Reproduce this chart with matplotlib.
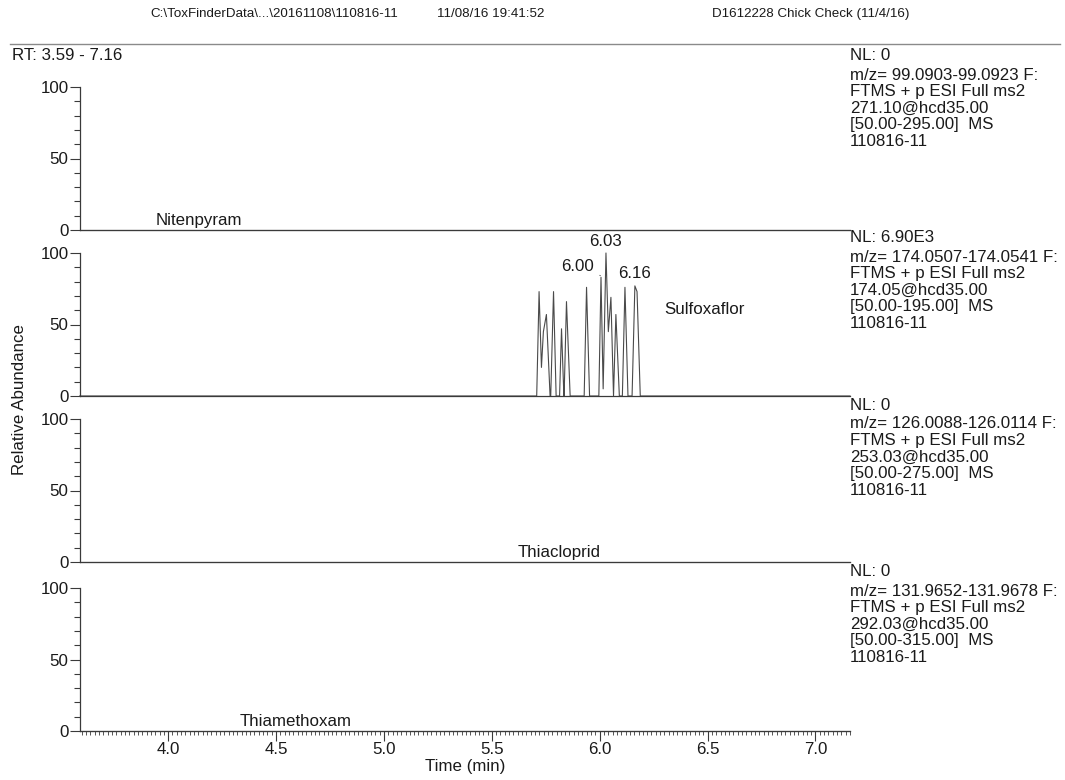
import matplotlib
matplotlib.use("Agg")
import matplotlib.pyplot as plt
from matplotlib.ticker import MultipleLocator, FixedLocator

plt.rcParams['font.family'] = ['Liberation Sans', 'DejaVu Sans']

W, H = 1065, 780
DPI = 100

# ---------------- data ----------------
rt_range = (3.59, 7.16)
x_ticks = [4.0, 4.5, 5.0, 5.5, 6.0, 6.5, 7.0]
y_ticks = [0, 50, 100]

compounds = ["Nitenpyram", "Sulfoxaflor", "Thiacloprid", "Thiamethoxam"]
label_rt = [3.94, 6.30, 5.62, 4.33]
label_int = [1.5, 55, 1.5, 1.5]

nl_values = ["NL: 0", "NL: 6.90E3", "NL: 0", "NL: 0"]
scan_info = [
    ["m/z= 99.0903-99.0923 F:", "FTMS + p ESI Full ms2", "271.10@hcd35.00",
     "[50.00-295.00]  MS", "110816-11"],
    ["m/z= 174.0507-174.0541 F:", "FTMS + p ESI Full ms2", "174.05@hcd35.00",
     "[50.00-195.00]  MS", "110816-11"],
    ["m/z= 126.0088-126.0114 F:", "FTMS + p ESI Full ms2", "253.03@hcd35.00",
     "[50.00-275.00]  MS", "110816-11"],
    ["m/z= 131.9652-131.9678 F:", "FTMS + p ESI Full ms2", "292.03@hcd35.00",
     "[50.00-315.00]  MS", "110816-11"],
]

# Sulfoxaflor trace (only non-empty channel)
rt_sulfoxaflor = [3.59, 5.708, 5.719, 5.730, 5.739, 5.753, 5.770, 5.773, 5.786,
                  5.798, 5.814, 5.823, 5.834, 5.835, 5.846, 5.863, 5.928, 5.939,
                  5.953, 5.996, 6.006, 6.016, 6.029, 6.040, 6.052, 6.064, 6.075,
                  6.091, 6.105, 6.117, 6.131, 6.150, 6.163, 6.173, 6.188, 7.16]
int_sulfoxaflor = [0, 0, 73, 20, 45, 57, 0, 0, 73,
                   0, 0, 47, 0, 0, 66, 0, 0, 76,
                   0, 0, 83, 5, 100, 45, 69, 0, 57,
                   0, 0, 76, 0, 0, 77, 73, 0, 0]
empty_rt = [3.59, 7.16]
empty_int = [0, 0]

peak_labels = ["6.00", "6.03", "6.16"]
peak_rt = [6.006, 6.029, 6.163]
peak_int = [83, 100, 77]

header = ["C:\\ToxFinderData\\...\\20161108\\110816-11", "11/08/16 19:41:52",
          "D1612228 Chick Check (11/4/16)"]

# ---------------- layout (pixels) ----------------
ax_left, ax_right = 79.7, 850
baselines = [230, 396, 562, 731]
span = 143  # pixels for 0..100

fig = plt.figure(figsize=(W / DPI, H / DPI), dpi=DPI)
fig.patch.set_facecolor('white')

LC = '#3a3a3a'
TC = '#1a1a1a'
FS = 12.2


def ptext(x, y, s, **kw):
    kw.setdefault('fontsize', FS)
    kw.setdefault('color', TC)
    kw.setdefault('va', 'center')
    kw.setdefault('ha', 'left')
    return fig.text(x / W, 1 - y / H, s, **kw)


traces = [(empty_rt, empty_int), (rt_sulfoxaflor, int_sulfoxaflor),
          (empty_rt, empty_int), (empty_rt, empty_int)]

axes = []
for i, base in enumerate(baselines):
    ax = fig.add_axes([ax_left / W, 1 - base / H, (ax_right - ax_left) / W, span / H])
    ax.set_facecolor('none')
    ax.set_xlim(*rt_range)
    ax.set_ylim(0, 100)
    for s in ['top', 'right']:
        ax.spines[s].set_visible(False)
    ax.spines['left'].set_bounds(0, 100)
    ax.spines['left'].set_color(LC)
    ax.spines['bottom'].set_color(LC)
    ax.spines['left'].set_linewidth(0.9)
    ax.spines['bottom'].set_linewidth(0.9)
    ax.yaxis.set_major_locator(FixedLocator(y_ticks))
    ax.yaxis.set_minor_locator(MultipleLocator(10))
    ax.tick_params(axis='y', which='major', length=7, width=0.8, color=LC,
                   labelsize=FS, labelcolor=TC, pad=1)
    ax.tick_params(axis='y', which='minor', length=4, width=0.8, color=LC)
    rx, ry = traces[i]
    ax.plot(rx, ry, color='#4a4a4a', lw=0.8, clip_on=False)
    ax.text(label_rt[i], label_int[i], compounds[i], fontsize=FS, color=TC,
            ha='left', va='bottom')
    if i < 3:
        ax.tick_params(axis='x', which='both', bottom=False, labelbottom=False)
    else:
        ax.xaxis.set_major_locator(FixedLocator(x_ticks))
        ax.xaxis.set_minor_locator(MultipleLocator(0.02))
        ax.set_xticklabels([f"{t:.1f}" for t in x_ticks])
        ax.tick_params(axis='x', which='major', length=7, width=0.8, color=LC,
                       labelsize=FS, labelcolor=TC, pad=1)
        ax.tick_params(axis='x', which='minor', length=3, width=0.6, color=LC)
        ax.set_xlabel("Time (min)", fontsize=FS, color=TC, labelpad=1)
    axes.append(ax)

# peak labels on Sulfoxaflor
ax2 = axes[1]
ax2.annotate(peak_labels[0], xy=(peak_rt[0], peak_int[0] + 1), xytext=(5.899, 90.5),
             fontsize=FS, color=TC, ha='center', va='center', annotation_clip=False,
             arrowprops=dict(arrowstyle='-', color='#777777', lw=0.7, linestyle=':',
                             shrinkA=2, shrinkB=0))
ax2.text(peak_rt[1], 108, peak_labels[1], fontsize=FS, color=TC, ha='center',
         va='center', clip_on=False)
ax2.text(peak_rt[2], 86, peak_labels[2], fontsize=FS, color=TC, ha='center',
         va='center', clip_on=False)

# header
ptext(150, 14, header[0], fontsize=9.6)
ptext(437, 14, header[1], fontsize=9.6)
ptext(712, 14, header[2], fontsize=9.6)
fig.add_artist(plt.Line2D([10 / W, 1060 / W], [1 - 44 / H, 1 - 44 / H],
                          color='#8a8a8a', lw=1.0))
ptext(12, 55, "RT: 3.59 - 7.16")

# y label
ptext(20, 400, "Relative Abundance", rotation=90, ha='center')

# right-side scan info
nl_y = [56, 238, 405, 572]
for i in range(4):
    ptext(850, nl_y[i], nl_values[i])
    for j, line in enumerate(scan_info[i]):
        ptext(850, nl_y[i] + 19 + 16.6 * j, line)

fig.savefig("out.png", dpi=DPI, facecolor='white')
